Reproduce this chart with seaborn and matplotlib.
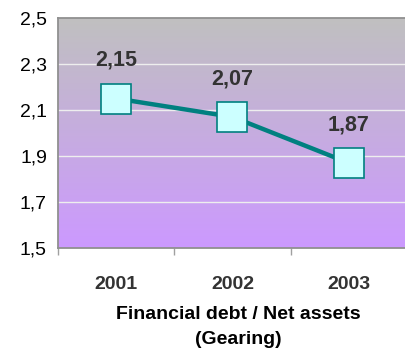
import numpy as np
import pandas as pd
import matplotlib
matplotlib.use("Agg")
import matplotlib.pyplot as plt
from matplotlib.colors import LinearSegmentedColormap
import seaborn as sns

years = ["2001", "2002", "2003"]
gearing = [2.15, 2.07, 1.87]
value_labels = ["2,15", "2,07", "1,87"]
y_ticks = [1.5, 1.7, 1.9, 2.1, 2.3, 2.5]
y_tick_labels = ["1,5", "1,7", "1,9", "2,1", "2,3", "2,5"]
x_title = "Financial debt / Net assets\n(Gearing)"

sns.set_theme(style="white")
plt.rcParams["font.family"] = ["Liberation Sans", "DejaVu Sans"]

fig = plt.figure(figsize=(4.06, 3.54), dpi=100)
ax = fig.add_axes([58 / 406, 1 - 248 / 354, 1 - 58 / 406 + 0.002, 230 / 354])

# gradient background
cmap = LinearSegmentedColormap.from_list("bg", ["#C0C0C0", "#CC99FF"])
grad = np.linspace(0, 1, 256).reshape(-1, 1)
ax.imshow(grad, aspect="auto", cmap=cmap, extent=[0, 1, 0, 1],
          transform=ax.transAxes, zorder=0)

df = pd.DataFrame({"pos": np.arange(len(years)), "value": gearing})
sns.lineplot(data=df, x="pos", y="value", ax=ax, color="#008080", linewidth=3.2,
             marker="s", markersize=21, markerfacecolor="#CCFFFF",
             markeredgecolor="#008080", markeredgewidth=1.2, zorder=3)

for i, (v, lab) in enumerate(zip(gearing, value_labels)):
    ax.annotate(lab, xy=(i, v), xytext=(0, 27.5), textcoords="offset points",
                ha="center", va="center", fontsize=15.5, fontweight="bold",
                color="#333333", zorder=4)

ax.set_xlim(-0.5, 2.5)
ax.set_ylim(1.5, 2.5)
ax.set_yticks(y_ticks)
ax.set_yticklabels(y_tick_labels, fontsize=14, color="black")
for y in y_ticks[1:-1]:
    ax.axhline(y, color="#EEEEEE", linewidth=1.0, zorder=1)

ax.set_xticks(np.arange(len(years)))
ax.set_xticklabels(years, fontsize=14, fontweight="bold", color="#333333")
ax.set_xticks([-0.5, 0.5, 1.5], minor=True)
ax.tick_params(axis="x", which="major", length=0, pad=20)
ax.tick_params(axis="x", which="minor", length=5, width=1, color="#A0A0A0", bottom=True)
ax.tick_params(axis="y", which="major", length=0, pad=8)
ax.set_xlabel("")
ax.set_ylabel("")

for side in ["top", "left", "bottom"]:
    ax.spines[side].set_visible(True)
    ax.spines[side].set_color("#909090")
    ax.spines[side].set_linewidth(1.3)
ax.spines["right"].set_visible(False)

fig.text(238 / 406, 1 - 327 / 354, x_title, ha="center", va="center",
         fontsize=14, fontweight="bold", color="black", linespacing=1.65)

fig.savefig("out.png", dpi=100)
